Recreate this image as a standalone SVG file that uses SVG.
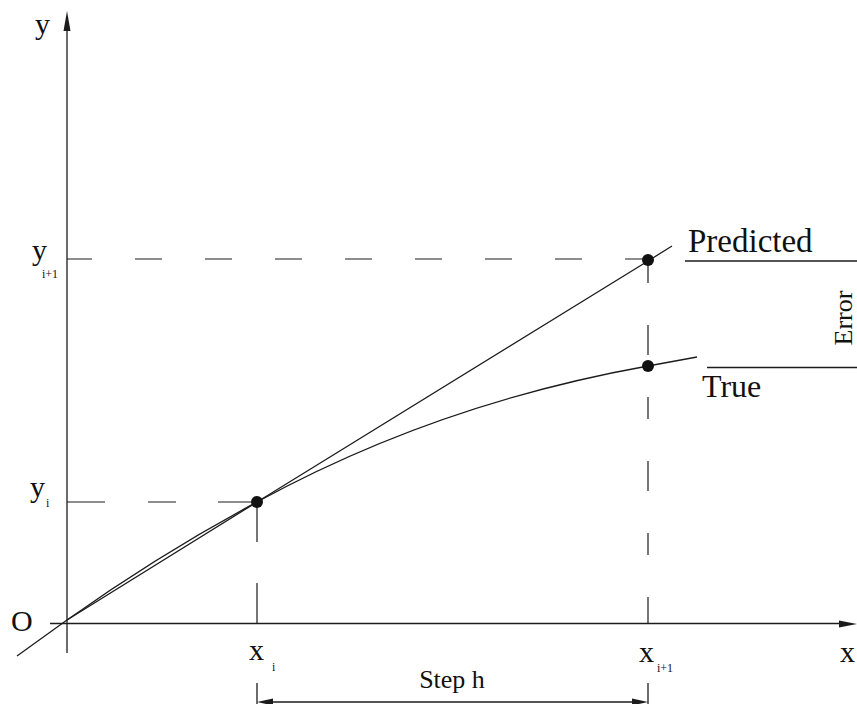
<svg xmlns="http://www.w3.org/2000/svg" width="857" height="704" viewBox="0 0 857 704">
<style>
.ln{stroke:#1c1c1c;stroke-width:1.3;fill:none}
.dash{stroke:#1c1c1c;stroke-width:1.2;fill:none}
.ah{fill:#1c1c1c;stroke:none}
.lb{font-family:"Liberation Serif","DejaVu Serif",serif;fill:#111}
.big{font-size:30px}
.sub{font-size:12px}
.pt{fill:#111}
</style>
<rect width="857" height="704" fill="#fff"/>
<g id="axes">
  <line class="ln" x1="67" y1="653" x2="67" y2="28"/>
  <polygon class="ah" points="67,11 63.5,31 70.5,31"/>
  <line class="ln" x1="50" y1="623.5" x2="842" y2="623.5"/>
  <polygon class="ah" points="857,624 839,620.5 839,627.5"/>
  <text class="lb big" x="35" y="34">y</text>
  <text class="lb big" x="840" y="662">x</text>
  <text class="lb big" x="11" y="631">O</text>
</g>
<g id="connectors">
  <line class="dash" x1="67" y1="259" x2="648" y2="259" stroke-dasharray="27 43" stroke-dashoffset="2"/>
  <line class="dash" x1="67" y1="502" x2="257" y2="502" stroke-dasharray="38 43 28 42"/>
  <line class="dash" x1="257" y1="502" x2="257" y2="623" stroke-dasharray="40 41"/>
  <line class="dash" x1="648" y1="261" x2="648" y2="623" stroke-dasharray="22 42 30 42"/>
  <polyline class="ln" points="17,656 67,620 257,502 648,261 672,246"/>
  <path class="ln" d="M67,620 Q160,554 257,502 Q436,404 648,366 L697,357"/>
</g>
<g id="label-yi1">
  <text class="lb big" x="32" y="260">y</text>
  <text class="lb sub" x="42" y="278">i+1</text>
</g>
<g id="label-yi">
  <text class="lb big" x="30" y="497">y</text>
  <text class="lb sub" x="46" y="507">i</text>
</g>
<g id="node-xi">
  <circle class="pt" cx="257" cy="502" r="6"/>
  <text class="lb big" x="249" y="660">x</text>
  <text class="lb sub" x="272" y="671">i</text>
</g>
<g id="node-predicted">
  <circle class="pt" cx="648" cy="260" r="6"/>
  <text class="lb" x="688" y="252" font-size="33">Predicted</text>
</g>
<g id="node-true">
  <circle class="pt" cx="648" cy="366" r="6"/>
  <text class="lb" x="702" y="397" font-size="32">True</text>
</g>
<g id="label-xi1">
  <text class="lb big" x="639" y="662">x</text>
  <text class="lb sub" x="657" y="672">i+1</text>
</g>
<g id="error">
  <line class="ln" x1="685" y1="261" x2="857" y2="261"/>
  <line class="ln" x1="707" y1="367.5" x2="857" y2="367.5"/>
  <text class="lb" font-size="26" text-anchor="middle" transform="translate(852,318) rotate(-90)">Error</text>
</g>
<g id="step">
  <line class="ln" x1="257" y1="683" x2="257" y2="704"/>
  <line class="ln" x1="648" y1="683" x2="648" y2="704"/>
  <line class="ln" x1="268" y1="702" x2="637" y2="702"/>
  <polygon class="ah" points="257,702 273,698.5 273,705.5"/>
  <polygon class="ah" points="648,702 632,698.5 632,705.5"/>
  <text class="lb" font-size="26" text-anchor="middle" x="452" y="688">Step h</text>
</g>
</svg>
